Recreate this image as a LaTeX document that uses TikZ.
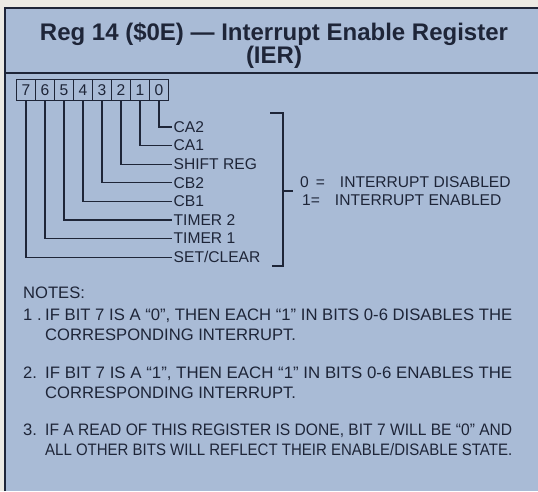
\documentclass[tikz,border=0pt]{standalone}
\usepackage{fontspec}
\setmainfont{Liberation Sans}
\usetikzlibrary{positioning}
\definecolor{panel}{HTML}{A9BBD6}
\definecolor{paper}{HTML}{ECEAE4}
\definecolor{ink}{HTML}{1E2538}
\newcommand{\fullline}[1]{\resizebox{467pt}{\height}{#1}}
\tikzset{
  bitcell/.style={draw=ink,line width=0.9pt,minimum width=19pt,minimum height=21pt,
    inner sep=0pt,anchor=north west},
  bitlbl/.style={anchor=west,inner sep=1.5pt},
  lead/.style={draw=ink,line width=1.1pt},
  note/.style={anchor=west,align=left,inner sep=0pt,font=\fontsize{16.6}{20}\selectfont},
  titletxt/.style={font=\bfseries\fontsize{24}{23}\selectfont,align=center},
}
\begin{document}
\begin{tikzpicture}[x=1pt,y=-1pt,
  every node/.style={text=ink,font=\fontsize{15.6}{18}\selectfont}]
  \fill[paper] (0,0) rectangle (538,491);
  \useasboundingbox (0,0) rectangle (538,491);
  \fill[panel] (5,8) rectangle (538,491);
  \draw[ink,line width=1.4pt] (5,491) -- (5,8) -- (538,8);
  \draw[ink,line width=1.4pt] (5,73) -- (538,73);
  \node[titletxt] (title) at (274,46) {Reg 14 (\$0E) --- Interrupt Enable Register\\(IER)};
  % register bits
  \foreach \b [count=\k from 0] in {7,...,0}
    \node[bitcell] (b\b) at (16+19*\k,79) {\b};
  \foreach \b/\t in {0/CA2,1/CA1,2/SHIFT REG,3/CB2,4/CB1,5/TIMER 2,6/TIMER 1,7/{SET/CLEAR}}{
    \node[bitlbl] (l\b) at (172,127+18.6*\b) {\t};
    \draw[lead] (b\b.south) |- (l\b.west);
  }
  % bracket
  \coordinate (brt) at (270,113);
  \coordinate (brb) at (272,266);
  \coordinate (brm) at (283,191);
  \coordinate (tick) at (293,191);
  \draw[lead] (brt) -- ++(13,0) |- (brb);
  \draw[lead] (brm) -- (tick);
  \node[note,right=7pt of tick,font=\fontsize{15.6}{18}\selectfont] (legend)
    {0 \,=\hspace{15pt}INTERRUPT DISABLED\\\hspace{2pt}1=\hspace{15pt}INTERRUPT ENABLED};
  % notes
  \node[note] (notes) at (23,293) {NOTES:};
  \node[note] (n1) at (23,315) {1 .};
  \node[note] (t1) at (45,325) {\fullline{IF BIT 7 IS A ``0'', THEN EACH ``1'' IN BITS 0-6 DISABLES THE}\\CORRESPONDING INTERRUPT.};
  \node[note] (n2) at (23,373) {2.};
  \node[note] (t2) at (45,383) {\fullline{IF BIT 7 IS A ``1'', THEN EACH ``1'' IN BITS 0-6 ENABLES THE}\\CORRESPONDING INTERRUPT.};
  \node[note] (n3) at (23,430) {3.};
  \node[note] (t3) at (45,440) {\fullline{IF A READ OF THIS REGISTER IS DONE, BIT 7 WILL BE ``0'' AND}\\\fullline{ALL OTHER BITS WILL REFLECT THEIR ENABLE/DISABLE STATE.}};
\end{tikzpicture}
\end{document}
